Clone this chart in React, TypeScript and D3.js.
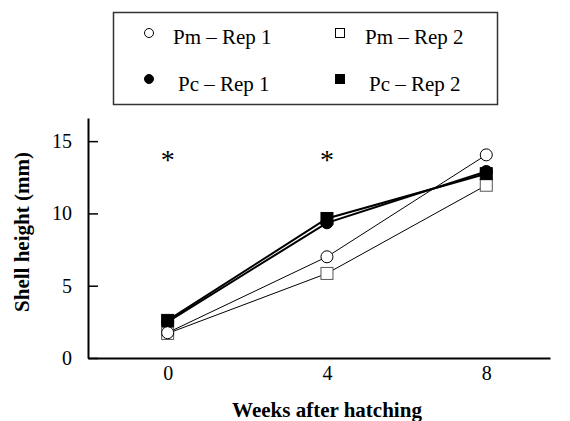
import React, { useEffect, useRef } from 'react';
import * as d3 from 'd3';

// weeks after hatching
const weeks = [0, 4, 8];
// shell height (mm) per series
const pmRep1 = [1.75, 7.0, 14.05];
const pmRep2 = [1.7, 5.85, 11.95];
const pcRep1 = [2.5, 9.35, 12.9];
const pcRep2 = [2.6, 9.65, 12.75];
const yTicks = [0, 5, 10, 15];
const sigWeeks = [0, 4];

const width = 570;
const height = 421;

const series = [
  { name: 'Pm \u2013 Rep 2', values: pmRep2, shape: 'square', fill: 'white', lw: 1 },
  { name: 'Pc \u2013 Rep 1', values: pcRep1, shape: 'circle', fill: 'black', lw: 2 },
  { name: 'Pc \u2013 Rep 2', values: pcRep2, shape: 'square', fill: 'black', lw: 2 },
  { name: 'Pm \u2013 Rep 1', values: pmRep1, shape: 'circle', fill: 'white', lw: 1 },
];

export default function App() {
  const ref = useRef<SVGSVGElement>(null);

  useEffect(() => {
    const svg = d3.select(ref.current);
    svg.selectAll('*').remove();

    const x = d3.scaleLinear().domain([-2, 9.6]).range([88, 550]);
    const y = d3.scaleLinear().domain([0, 16.6]).range([358, 118]);
    const font = '"Liberation Serif", "Times New Roman", serif';

    // y axis
    const yAxis = d3
      .axisLeft(y)
      .tickValues(yTicks)
      .tickSizeInner(-10)
      .tickSizeOuter(0)
      .tickPadding(16);
    const gy = svg.append('g').attr('transform', 'translate(88,0)').call(yAxis);
    gy.select('.domain').attr('stroke-width', 2);
    gy.selectAll('.tick line').attr('stroke-width', 1.5);
    gy.selectAll('.tick text')
      .attr('font-family', font)
      .attr('font-size', 20)
      .attr('fill', 'black');

    // x axis
    const xAxis = d3
      .axisBottom(x)
      .tickValues(weeks)
      .tickSize(0)
      .tickPadding(8);
    const gx = svg.append('g').attr('transform', 'translate(0,358)').call(xAxis);
    gx.select('.domain').attr('stroke-width', 2);
    gx.selectAll('.tick text')
      .attr('font-family', font)
      .attr('font-size', 20)
      .attr('fill', 'black');

    // axis titles
    svg
      .append('text')
      .attr('x', 327)
      .attr('y', 417)
      .attr('text-anchor', 'middle')
      .attr('font-family', font)
      .attr('font-weight', 'bold')
      .attr('font-size', 21)
      .text('Weeks after hatching');
    svg
      .append('text')
      .attr('transform', 'translate(29,232) rotate(-90)')
      .attr('text-anchor', 'middle')
      .attr('font-family', font)
      .attr('font-weight', 'bold')
      .attr('font-size', 21)
      .text('Shell height (mm)');

    // significance marks
    svg
      .selectAll('text.sig')
      .data(sigWeeks)
      .enter()
      .append('text')
      .attr('class', 'sig')
      .attr('x', (d) => x(d))
      .attr('y', 169)
      .attr('text-anchor', 'middle')
      .attr('font-family', font)
      .attr('font-size', 28)
      .text('*');

    const line = d3
      .line<number>()
      .x((d, i) => x(weeks[i]))
      .y((d) => y(d));

    series.forEach((s) => {
      svg
        .append('path')
        .attr('d', line(s.values))
        .attr('fill', 'none')
        .attr('stroke', 'black')
        .attr('stroke-width', s.lw);
    });

    series.forEach((s) => {
      const g = svg.append('g');
      s.values.forEach((v, i) => {
        if (s.shape === 'circle') {
          g.append('circle')
            .attr('cx', x(weeks[i]))
            .attr('cy', y(v))
            .attr('r', 6)
            .attr('fill', s.fill)
            .attr('stroke', 'black')
            .attr('stroke-width', 1);
        } else {
          g.append('rect')
            .attr('x', x(weeks[i]) - 6)
            .attr('y', y(v) - 6)
            .attr('width', 12)
            .attr('height', 12)
            .attr('fill', s.fill)
            .attr('stroke', s.fill === 'white' ? '#555' : 'black')
            .attr('stroke-width', 1);
        }
      });
    });

    // legend
    const lg = svg.append('g');
    lg.append('rect')
      .attr('x', 113.5)
      .attr('y', 12.5)
      .attr('width', 384)
      .attr('height', 92)
      .attr('fill', 'white')
      .attr('stroke', '#333')
      .attr('stroke-width', 1.5);

    const legendItems = [
      { s: series[3], mx: 149, my: 33, tx: 173, ty: 44 },
      { s: series[0], mx: 340, my: 33, tx: 365, ty: 44 },
      { s: series[1], mx: 149, my: 79, tx: 178, ty: 91 },
      { s: series[2], mx: 340, my: 79, tx: 369, ty: 91 },
    ];
    legendItems.forEach((it) => {
      if (it.s.shape === 'circle') {
        lg.append('circle')
          .attr('cx', it.mx)
          .attr('cy', it.my)
          .attr('r', 4.5)
          .attr('fill', it.s.fill)
          .attr('stroke', 'black')
          .attr('stroke-width', 1);
      } else {
        lg.append('rect')
          .attr('x', it.mx - 4.5)
          .attr('y', it.my - 4.5)
          .attr('width', 9)
          .attr('height', 9)
          .attr('fill', it.s.fill)
          .attr('stroke', 'black')
          .attr('stroke-width', 1);
      }
      lg.append('text')
        .attr('x', it.tx)
        .attr('y', it.ty)
        .attr('font-family', font)
        .attr('font-size', 21)
        .text(it.s.name);
    });
  }, []);

  return (
    <svg
      ref={ref}
      width={width}
      height={height}
      style={{ position: 'absolute', left: 0, top: 0, background: 'white' }}
    />
  );
}
